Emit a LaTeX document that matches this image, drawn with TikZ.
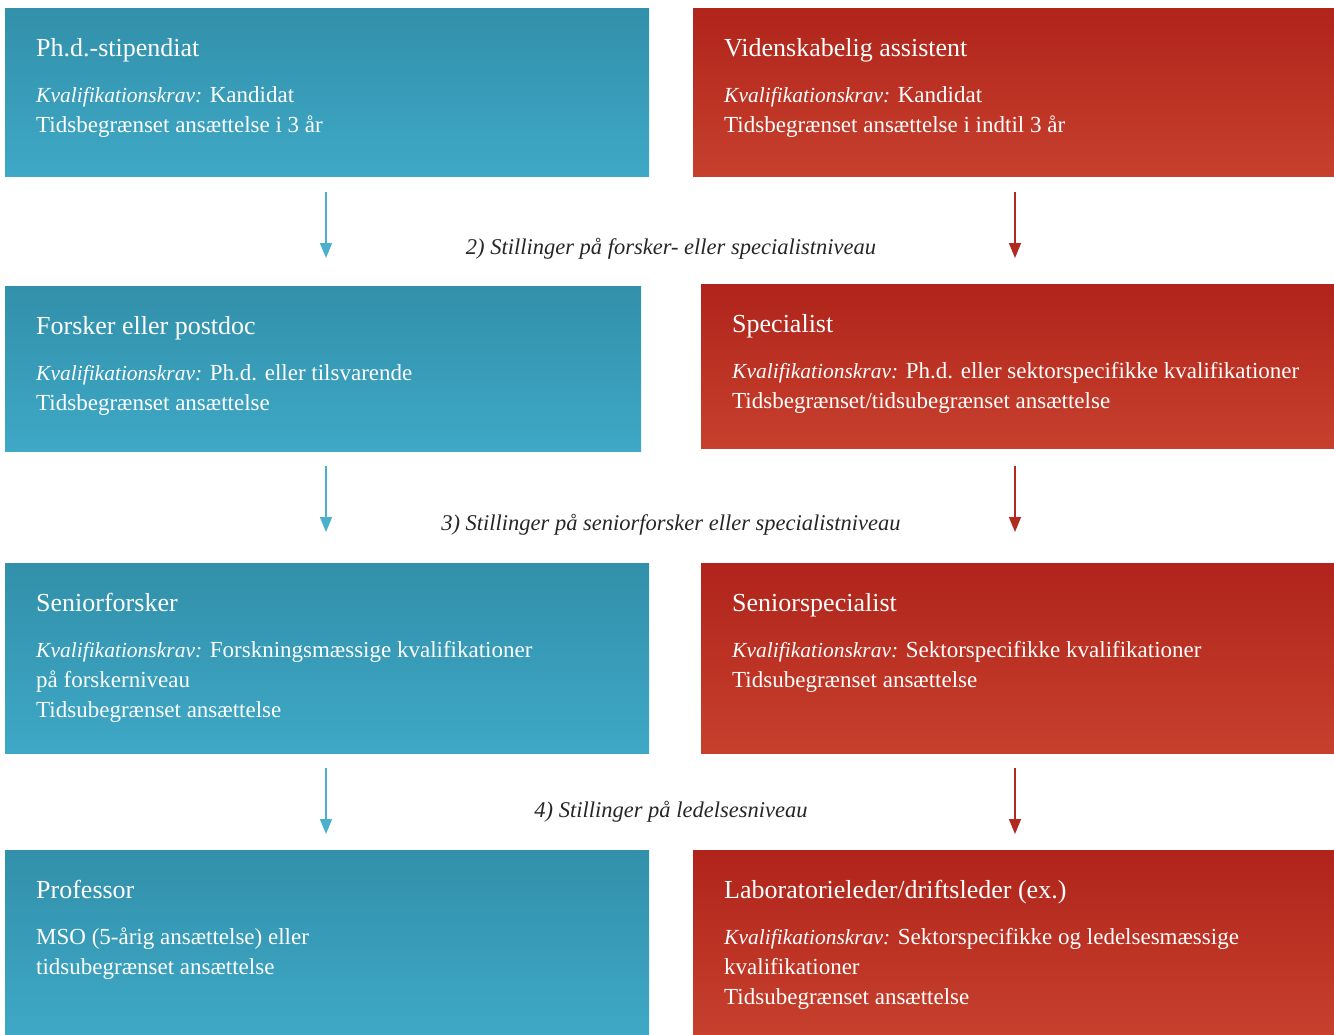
\documentclass[tikz,border=0pt]{standalone}
\usepackage{fontspec}
\setmainfont{Liberation Serif}
\usepackage{tikz}
\usetikzlibrary{positioning,arrows.meta,calc}
\definecolor{bluetop}{HTML}{3290AA}
\definecolor{bluebot}{HTML}{3EA8C6}
\definecolor{redtop}{HTML}{B0241B}
\definecolor{redbot}{HTML}{C7402D}
\definecolor{bluearr}{HTML}{4BB0CA}
\definecolor{redarr}{HTML}{B02A20}
\newcommand{\kvtitle}[1]{{\fontsize{26}{30}\selectfont #1}}
\newcommand{\kvkrav}{{\fontsize{21.5}{30}\selectfont\textit{Kvalifikationskrav:}}}

\begin{document}
\begin{tikzpicture}[
  x=1pt, y=1pt,
  box/.style={anchor=north west, inner sep=0pt, text width=0pt},
  bluebox/.style={box, top color=bluetop, bottom color=bluebot, draw=none},
  redbox/.style={box, top color=redtop, bottom color=redbot, draw=none},
  boxtext/.style={anchor=north west, inner xsep=31pt, inner ysep=0pt, align=left,
                  text=white, font=\fontsize{23}{30}\selectfont},
  level/.style={font=\fontsize{22.5}{26}\selectfont\itshape, text=black!85},
  bluearrow/.style={-{Triangle[length=15pt,width=12pt]}, line width=1.5pt, draw=bluearr},
  redarrow/.style={-{Triangle[length=15pt,width=12pt]}, line width=1.5pt, draw=redarr}
]
\useasboundingbox (0,0) rectangle (1334,-1034);
\coordinate (bluecol) at (326,0);
\coordinate (redcol) at (1015,0);

% boxes
\node[bluebox, minimum width=644pt, minimum height=168pt] (phd) at (5,-8) {};
\node[redbox, minimum width=641pt, minimum height=168pt] (vid) at (693,-8) {};
\node[bluebox, minimum width=636pt, minimum height=165pt] (forsker) at (5,-286) {};
\node[redbox, minimum width=633pt, minimum height=164pt] (spec) at (701,-284) {};
\node[bluebox, minimum width=644pt, minimum height=190pt] (senf) at (5,-563) {};
\node[redbox, minimum width=633pt, minimum height=190pt] (sens) at (701,-563) {};
\node[bluebox, minimum width=644pt, minimum height=184pt] (prof) at (5,-850) {};
\node[redbox, minimum width=641pt, minimum height=184pt] (lab) at (693,-850) {};

% texts
\node[boxtext, yshift=-30pt] at (phd.north west)
  {\kvtitle{Ph.d.-stipendiat}\\[16pt]\kvkrav{} Kandidat\\Tidsbegrænset ansættelse i 3 år};
\node[boxtext, yshift=-30pt] at (vid.north west)
  {\kvtitle{Videnskabelig assistent}\\[16pt]\kvkrav{} Kandidat\\Tidsbegrænset ansættelse i indtil 3 år};
\node[boxtext, yshift=-30pt] at (forsker.north west)
  {\kvtitle{Forsker eller postdoc}\\[16pt]\kvkrav{} Ph.d. eller tilsvarende\\Tidsbegrænset ansættelse};
\node[boxtext, yshift=-30pt] at (spec.north west)
  {\kvtitle{Specialist}\\[16pt]\kvkrav{} Ph.d. eller sektorspecifikke kvalifikationer\\Tidsbegrænset/tidsubegrænset ansættelse};
\node[boxtext, yshift=-30pt] at (senf.north west)
  {\kvtitle{Seniorforsker}\\[16pt]\kvkrav{} Forskningsmæssige kvalifikationer\\på forskerniveau\\Tidsubegrænset ansættelse};
\node[boxtext, yshift=-30pt] at (sens.north west)
  {\kvtitle{Seniorspecialist}\\[16pt]\kvkrav{} Sektorspecifikke kvalifikationer\\Tidsubegrænset ansættelse};
\node[boxtext, yshift=-30pt] at (prof.north west)
  {\kvtitle{Professor}\\[16pt]MSO (5-årig ansættelse) eller\\tidsubegrænset ansættelse};
\node[boxtext, yshift=-30pt] at (lab.north west)
  {\kvtitle{Laboratorieleder/driftsleder (ex.)}\\[16pt]\kvkrav{} Sektorspecifikke og ledelsesmæssige\\kvalifikationer\\Tidsubegrænset ansættelse};

% level labels
\node[level] (lvl2) at (671,-249) {2) Stillinger på forsker- eller specialistniveau};
\node[level] (lvl3) at (671,-525) {3) Stillinger på seniorforsker eller specialistniveau};
\node[level] (lvl4) at (671,-812) {4) Stillinger på ledelsesniveau};

% arrows
\draw[bluearrow, shorten <=16pt, shorten >=28pt] (phd.south -| bluecol) -- (forsker.north -| bluecol);
\draw[bluearrow, shorten <=15pt, shorten >=31pt] (forsker.south -| bluecol) -- (senf.north -| bluecol);
\draw[bluearrow, shorten <=15pt, shorten >=16pt] (senf.south -| bluecol) -- (prof.north -| bluecol);
\draw[redarrow, shorten <=16pt, shorten >=26pt] (vid.south -| redcol) -- (spec.north -| redcol);
\draw[redarrow, shorten <=18pt, shorten >=31pt] (spec.south -| redcol) -- (sens.north -| redcol);
\draw[redarrow, shorten <=15pt, shorten >=16pt] (sens.south -| redcol) -- (lab.north -| redcol);
\end{tikzpicture}
\end{document}
